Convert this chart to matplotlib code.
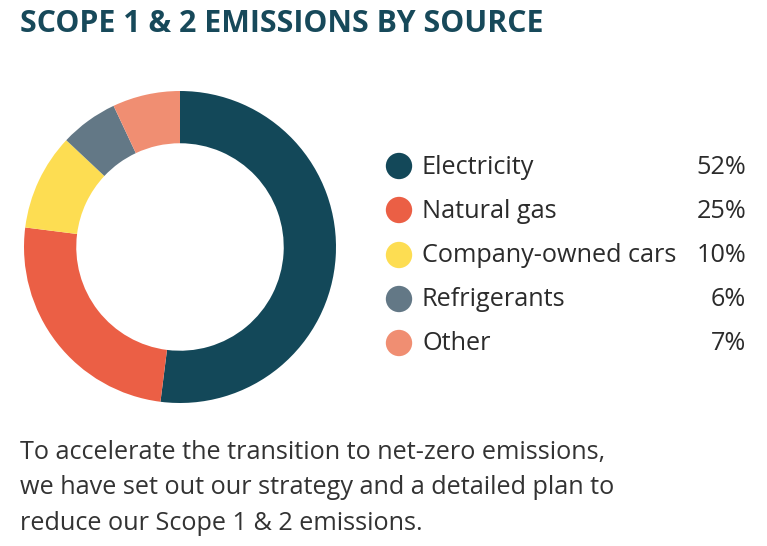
import matplotlib
matplotlib.use("Agg")
import matplotlib.pyplot as plt

sources = ["Electricity", "Natural gas", "Company-owned cars", "Refrigerants", "Other"]
shares = [52, 25, 10, 6, 7]
colors = ["#134859", "#EB5F45", "#FDDD52", "#637886", "#F08E72"]

title = "SCOPE 1 & 2 EMISSIONS BY SOURCE"
note = ["To accelerate the transition to net-zero emissions,",
        "we have set out our strategy and a detailed plan to",
        "reduce our Scope 1 & 2 emissions."]

W, H = 767, 546
fig = plt.figure(figsize=(W / 100, H / 100), dpi=100)
fig.patch.set_facecolor("white")

# donut: centre (180, 247) px, outer radius 156 px
cx, cy, r = 180, 247, 156
ax = fig.add_axes([(cx - r) / W, (H - cy - r) / H, 2 * r / W, 2 * r / H])
ax.pie(shares, colors=colors, startangle=90, counterclock=False,
       wedgeprops=dict(width=0.335, edgecolor="none"))
ax.set_xlim(-1, 1)
ax.set_ylim(-1, 1)
ax.set_aspect("equal")
ax.axis("off")

# overlay in pixel coords for texts and legend
ov = fig.add_axes([0, 0, 1, 1], zorder=3)
ov.set_xlim(0, W)
ov.set_ylim(H, 0)
ov.axis("off")
ov.patch.set_alpha(0)

font = "Open Sans"
ov.text(20, 24, title, fontsize=21.8, fontweight="bold", color="#17495A",
        family=font, va="center", ha="left")

rows_y = [166, 210, 255, 299, 343]
for y, name, pct, c in zip(rows_y, sources, shares, colors):
    ov.scatter([399], [y], s=360, color=c, edgecolors="none")
    ov.text(422, y + 1, name, fontsize=18.2, color="#2B2B2B", family=font,
            va="center", ha="left")
    ov.text(746, y + 1, f"{pct}%", fontsize=18.2, color="#2B2B2B", family=font,
            va="center", ha="right")

for i, line in enumerate(note):
    ov.text(20, 453 + i * 35, line, fontsize=18.2, color="#333333",
            family=font, va="center", ha="left")

fig.savefig("out.png", dpi=100)
